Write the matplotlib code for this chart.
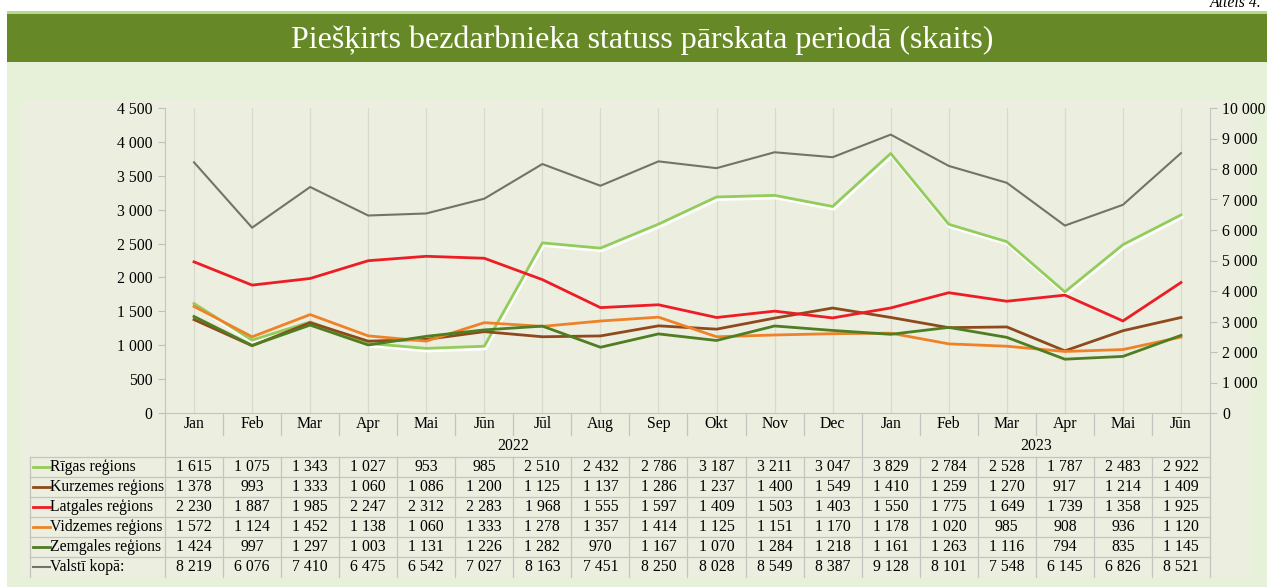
import matplotlib
matplotlib.use("Agg")
import matplotlib.pyplot as plt
import matplotlib.patheffects as pe
from matplotlib.patches import Rectangle
from matplotlib.lines import Line2D
from matplotlib.transforms import blended_transform_factory

plt.rcParams['font.family'] = ['Liberation Serif', 'DejaVu Serif']

W, H = 1267, 587

months = ["Jan", "Feb", "Mar", "Apr", "Mai", "Jūn", "Jūl", "Aug", "Sep", "Okt", "Nov", "Dec",
          "Jan", "Feb", "Mar", "Apr", "Mai", "Jūn"]
years = ["2022", "2023"]
year_len = [12, 6]

riga = [1615, 1075, 1343, 1027, 953, 985, 2510, 2432, 2786, 3187, 3211, 3047,
        3829, 2784, 2528, 1787, 2483, 2922]
kurzeme = [1378, 993, 1333, 1060, 1086, 1200, 1125, 1137, 1286, 1237, 1400, 1549,
           1410, 1259, 1270, 917, 1214, 1409]
latgale = [2230, 1887, 1985, 2247, 2312, 2283, 1968, 1555, 1597, 1409, 1503, 1403,
           1550, 1775, 1649, 1739, 1358, 1925]
vidzeme = [1572, 1124, 1452, 1138, 1060, 1333, 1278, 1357, 1414, 1125, 1151, 1170,
           1178, 1020, 985, 908, 936, 1120]
zemgale = [1424, 997, 1297, 1003, 1131, 1226, 1282, 970, 1167, 1070, 1284, 1218,
           1161, 1263, 1116, 794, 835, 1145]
total = [8219, 6076, 7410, 6475, 6542, 7027, 8163, 7451, 8250, 8028, 8549, 8387,
         9128, 8101, 7548, 6145, 6826, 8521]

series_names = ["Rīgas reģions", "Kurzemes reģions", "Latgales reģions",
                "Vidzemes reģions", "Zemgales reģions", "Valstī kopā:"]
series_data = [riga, kurzeme, latgale, vidzeme, zemgale, total]
series_colors = ["#92cc5a", "#8e4a1c", "#ee1c24", "#ef8228", "#4e7d22", "#747464"]

title = "Piešķirts bezdarbnieka statuss pārskata periodā (skaits)"
fs = 11.3


def fx(x):
    return x / W


def fy(y):
    return 1 - y / H


def fmt(v):
    return f"{v:,.0f}".replace(",", " ")


fig = plt.figure(figsize=(W / 100, H / 100), dpi=100)
fig.patch.set_facecolor("white")

# backgrounds (behind the axes)
bg = [((7, 62, W, H), "#e7f0d8"),
      ((22, 100, 1250, 577), "#eceedf"),
      ((7, 14, W, 62), "#678826"),
      ((7, 11, W, 14), "#b7d98c")]
for (xa, ya, xb, yb), c in bg:
    fig.patches.append(Rectangle((fx(xa), fy(yb)), fx(xb - xa), fy(ya) - fy(yb),
                                 transform=fig.transFigure, facecolor=c,
                                 edgecolor="none", zorder=-5))

fig.text(fx(642), fy(40), title, color="white", fontsize=23, ha="center", va="center")
fig.text(fx(1262), fy(7), "Attēls 4.", fontsize=fs, style="italic", ha="right",
         va="baseline")

# axes
x0, x1, ytop, ybot = 165, 1210, 108, 413
ax = fig.add_axes([fx(x0), fy(ybot), fx(x1 - x0), fy(ytop) - fy(ybot)])
ax.set_facecolor("none")
ax2 = ax.twinx()
ax2.set_facecolor("none")

n = len(months)
ax.set_xlim(-0.5, n - 0.5)
ax.set_ylim(0, 4500)
ax2.set_ylim(0, 10000)
ax.set_yticks(range(0, 4501, 500))
ax2.set_yticks(range(0, 10001, 1000))
ax.set_yticklabels([fmt(v) for v in range(0, 4501, 500)])
ax2.set_yticklabels([fmt(v) for v in range(0, 10001, 1000)])
ax.set_xticks(range(n))
ax.tick_params(axis="x", length=0, labelbottom=False)
ax.grid(axis="x", color="#d8dacf", linewidth=0.9)
ax.set_axisbelow(True)
for a in (ax, ax2):
    for s in a.spines.values():
        s.set_visible(False)
    a.tick_params(axis="y", labelsize=fs, color="#bfbfbf", length=5, width=0.8, pad=4)
ax.spines["left"].set_visible(True)
ax.spines["left"].set_color("#c4c4c0")
ax2.spines["right"].set_visible(True)
ax2.spines["right"].set_color("#c4c4c0")
ax.spines["bottom"].set_visible(True)
ax.spines["bottom"].set_color("#c4c4c0")

xs = list(range(n))
shadow = [pe.SimpleLineShadow(offset=(0.8, -1.6), shadow_color="white", alpha=1.0, linewidth=2.6),
          pe.Normal()]
for name, data, col in zip(series_names[:5], series_data[:5], series_colors[:5]):
    effects = shadow if name.startswith("Rīgas") else None
    ax.plot(xs, data, color=col, linewidth=2.0, path_effects=effects, zorder=3)
ax2.plot(xs, total, color=series_colors[5], linewidth=1.5, zorder=3)

# data table
bt = blended_transform_factory(ax.transData, fig.transFigure)
line_col = "#c4c4c0"
row_edges = [457, 477, 497, 517, 537, 557, 577]


def hline(y, xa, xb):
    fig.add_artist(Line2D([fx(xa), fx(xb)], [fy(y), fy(y)], transform=fig.transFigure,
                          color=line_col, linewidth=0.9))


def vline(xd, ya, yb):
    ax.add_artist(Line2D([xd, xd], [fy(ya), fy(yb)], transform=bt, color=line_col,
                         linewidth=0.9, clip_on=False))


for y in row_edges[:-1]:
    hline(y, 30, x1)
fig.add_artist(Line2D([fx(30), fx(30)], [fy(457), fy(577)], transform=fig.transFigure,
                      color=line_col, linewidth=0.9))
vline(-0.5, ybot, 577)
vline(n - 0.5, ybot, 577)
for i in range(n - 1):
    b = i + 0.5
    if i == year_len[0] - 1:
        vline(b, ybot, 577)
    else:
        vline(b, ybot, 435)
        vline(b, 457, 577)

for i, m in enumerate(months):
    ax.text(i, fy(424), m, transform=bt, ha="center", va="center", fontsize=fs)
start = 0
for yr, ln in zip(years, year_len):
    ax.text(start + (ln - 1) / 2, fy(446), yr, transform=bt, ha="center", va="center",
            fontsize=fs)
    start += ln

for r, (name, data, col) in enumerate(zip(series_names, series_data, series_colors)):
    yc = (row_edges[r] + row_edges[r + 1]) / 2
    lw = 1.5 if r == 5 else 2.0
    fig.add_artist(Line2D([fx(33), fx(50)], [fy(yc), fy(yc)], transform=fig.transFigure,
                          color=col, linewidth=lw))
    fig.text(fx(50), fy(yc), name, ha="left", va="center", fontsize=fs)
    for i, v in enumerate(data):
        ax.text(i, fy(yc), fmt(v), transform=bt, ha="center", va="center", fontsize=fs)

fig.savefig("out.png", dpi=100, facecolor=fig.get_facecolor())
